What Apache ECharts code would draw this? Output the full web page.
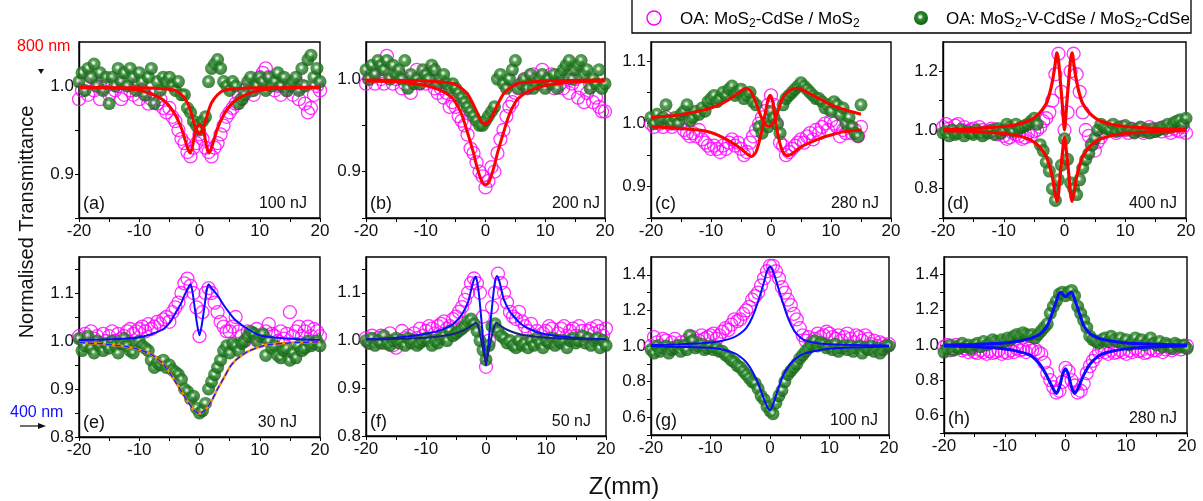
<!DOCTYPE html>
<html>
<head>
<meta charset="utf-8">
<script src="https://cdn.jsdelivr.net/npm/echarts@6/dist/echarts.min.js"></script>
<style>
html,body{margin:0;padding:0;background:#fff;}
#main{width:1203px;height:501px;}
</style>
</head>
<body>
<div id="main"></div>
<script>
// z position (mm) of the scan points
var Z = [
  -20,-19.5,-19,-18.5,-18,-17.5,-17,-16.5,-16,-15.5,
  -15,-14.5,-14,-13.5,-13,-12.5,-12,-11.5,-11,-10.5,
  -10,-9.5,-9,-8.5,-8,-7.5,-7,-6.5,-6,-5.5,
  -5,-4.5,-4,-3.5,-3,-2.5,-2,-1.5,-1,-0.5,
  0,0.5,1,1.5,2,2.5,3,3.5,4,4.5,
  5,5.5,6,6.5,7,7.5,8,8.5,9,9.5,
  10,10.5,11,11.5,12,12.5,13,13.5,14,14.5,
  15,15.5,16,16.5,17,17.5,18,18.5,19,19.5,
  20
];

/* ---- (a) 800 nm, 100 nJ ---- */
var A_MAG = [
  0.985,0.995,1.005,0.99,1.01,0.995,1.0,0.985,1.005,1.0,
  0.99,1.005,0.995,1.0,0.985,0.99,1.005,0.995,0.99,1.0,
  0.985,0.995,0.99,0.98,0.985,0.99,0.98,0.985,0.975,0.97,
  0.975,0.965,0.96,0.95,0.94,0.935,0.925,0.92,0.93,0.935,
  0.945,0.94,0.93,0.925,0.92,0.93,0.935,0.945,0.955,0.965,
  0.97,0.975,0.98,0.99,0.985,0.995,1.0,0.995,0.99,1.005,
  1.01,1.015,1.02,1.01,1.005,0.995,1.0,0.99,1.0,0.995,
  1.0,0.99,1.005,0.985,1.0,0.98,0.97,0.975,0.99,1.0,
  0.995
];
var A_GRN = [
  1.005,1.015,0.995,1.02,1.01,1.025,1.0,1.015,0.995,1.01,
  0.98,1.01,1.0,1.02,1.005,1.015,1.0,1.02,1.01,0.995,
  1.015,1.005,0.99,1.01,1.02,0.98,1.005,0.995,1.01,1.005,
  1.01,1.0,0.995,1.005,0.99,0.99,0.975,0.97,0.96,0.955,
  0.95,0.96,0.965,1.005,1.02,1.025,1.03,1.02,1.005,1.0,
  0.995,1.005,1.0,0.98,0.985,0.99,1.005,1.01,0.995,1.0,
  1.01,1.005,0.995,1.01,1.0,1.005,1.015,1.0,1.01,0.995,
  1.0,1.005,1.01,0.995,1.02,1.0,1.03,1.035,1.01,1.02,
  1.005
];
var A_FIT_MAG = [[-20,0.999],[-16,0.998],[-12,0.997],[-10,0.995],[-8,0.991],[-6,0.984],[-5,0.977],[-4,0.967],[-3,0.952],[-2.5,0.941],[-2,0.93],[-1.6,0.924],[-1.2,0.93],[-0.8,0.945],[-0.4,0.953],[0,0.956],[0.4,0.953],[0.8,0.945],[1.2,0.93],[1.6,0.924],[2,0.93],[2.5,0.941],[3,0.952],[4,0.967],[5,0.977],[6,0.984],[8,0.991],[10,0.995],[12,0.997],[16,0.998],[20,0.999]];
var A_FIT_GRN = [[-20,0.998],[-10,0.998],[-6,0.997],[-4,0.995],[-3,0.99],[-2,0.981],[-1.5,0.972],[-1,0.96],[-0.5,0.95],[0,0.946],[0.5,0.95],[1,0.96],[1.5,0.972],[2,0.981],[3,0.99],[4,0.995],[6,0.997],[10,0.998],[20,0.998]];

/* ---- (b) 800 nm, 200 nJ ---- */
var B_MAG = [
  0.995,1.0,1.005,0.995,1.01,1.0,0.995,1.025,1.005,0.995,
  1.0,1.005,0.99,0.995,1.0,0.985,1.0,1.01,0.995,1.005,
  0.995,1.0,1.01,0.99,0.985,0.99,0.98,0.985,0.97,0.975,
  0.97,0.96,0.955,0.95,0.94,0.925,0.92,0.91,0.9,0.895,
  0.883,0.89,0.905,0.9,0.92,0.935,0.945,0.96,0.97,0.975,
  0.985,0.99,0.995,1.0,0.99,1.0,1.005,1.0,0.995,1.01,
  1.0,0.995,1.005,0.99,1.0,0.995,0.99,1.0,0.985,0.995,
  1.0,0.98,0.99,0.975,0.985,0.995,0.975,0.98,0.97,0.965,
  0.965
];
var B_GRN = [
  1.01,1.0,1.015,1.005,1.02,1.015,1.01,1.02,1.0,1.015,
  1.005,1.01,1.0,1.02,0.99,1.005,0.995,1.0,0.995,1.01,
  1.005,1.0,1.015,1.01,0.995,1.0,1.005,0.995,0.99,0.995,
  0.99,0.985,0.98,0.975,0.97,0.965,0.96,0.955,0.95,0.95,
  0.955,0.96,0.965,0.97,1.0,1.005,0.995,0.99,1.0,1.01,
  1.02,0.99,0.995,1.0,0.99,1.005,0.99,0.995,1.0,1.005,
  0.99,1.0,0.995,1.005,0.99,1.005,1.01,1.015,1.02,1.0,
  1.01,1.015,1.02,1.005,1.01,0.99,1.0,0.995,1.01,0.99,
  0.995
];
var B_FIT_MAG = [[-20,0.998],[-15,0.997],[-12,0.995],[-10,0.993],[-8,0.989],[-6,0.982],[-5,0.975],[-4,0.962],[-3,0.942],[-2,0.92],[-1.5,0.907],[-1,0.896],[-0.5,0.888],[0,0.886],[0.5,0.888],[1,0.896],[1.5,0.907],[2,0.92],[3,0.942],[4,0.962],[5,0.975],[6,0.982],[8,0.989],[10,0.993],[12,0.995],[15,0.997],[20,0.998]];
var B_FIT_GRN = [[-20,0.999],[-10,0.998],[-6,0.996],[-5,0.994],[-4,0.99],[-3,0.984],[-2,0.972],[-1.5,0.965],[-1,0.958],[-0.5,0.953],[0,0.952],[0.5,0.953],[1,0.958],[1.5,0.965],[2,0.972],[3,0.984],[4,0.99],[5,0.994],[6,0.996],[10,0.998],[20,0.999]];

/* ---- (c) 800 nm, 280 nJ (scan stops at 15 mm) ---- */
var C_MAG = [
  1.0,0.995,1.005,1.0,0.995,1.01,1.0,0.995,1.0,1.005,
  1.0,0.99,0.985,0.98,0.985,0.98,0.99,0.975,0.97,0.965,
  0.96,0.965,0.96,0.955,0.965,0.96,0.97,0.975,0.965,0.97,
  0.96,0.95,0.955,0.97,0.98,0.99,1.0,1.01,1.02,1.03,
  1.045,1.03,1.0,0.97,0.965,0.95,0.955,0.96,0.965,0.97,
  0.975,0.97,0.98,0.985,0.975,0.99,0.985,0.995,1.0,0.99,
  1.005,1.0,0.995,0.98,0.99,0.985,0.995,0.985,0.99,0.98,
  0.995
];
var C_GRN = [
  1.01,1.0,1.015,1.005,1.01,1.03,1.005,1.0,1.01,1.0,
  1.015,1.02,1.03,1.005,1.01,1.02,1.015,1.025,1.02,1.035,
  1.04,1.045,1.035,1.04,1.05,1.045,1.055,1.06,1.045,1.05,
  1.055,1.04,1.045,1.05,1.035,1.03,0.995,0.985,1.0,0.995,
  1.02,1.01,1.0,0.985,1.03,1.04,1.045,1.05,1.055,1.06,
  1.065,1.06,1.055,1.05,1.045,1.04,1.04,1.035,1.025,1.03,
  1.02,1.035,1.03,1.015,1.025,1.0,1.01,0.995,0.985,0.98,
  1.03
];
var C_FIT_GRN = [[-20,1.01],[-16,1.013],[-12,1.02],[-10,1.025],[-8,1.033],[-6,1.045],[-5,1.052],[-4.2,1.056],[-3.5,1.053],[-3,1.045],[-2.5,1.033],[-2,1.02],[-1.5,1.008],[-1,1.0],[-0.5,0.996],[0,0.997],[0.5,1.003],[1,1.015],[1.5,1.03],[2,1.042],[3,1.052],[4,1.056],[4.5,1.056],[5,1.055],[6,1.05],[8,1.04],[10,1.03],[12,1.023],[15,1.015]];
var C_FIT_MAG = [[-20,0.995],[-16,0.993],[-12,0.99],[-10,0.986],[-8,0.978],[-6,0.967],[-5,0.96],[-4,0.952],[-3.3,0.948],[-3,0.949],[-2.5,0.955],[-2,0.97],[-1.5,0.99],[-1,1.015],[-0.5,1.038],[-0.2,1.045],[0,1.044],[0.3,1.035],[0.6,1.015],[1,0.99],[1.5,0.968],[2,0.955],[2.7,0.949],[3.5,0.952],[4,0.956],[5,0.963],[6,0.968],[8,0.976],[10,0.982],[12,0.987],[15,0.99]];

/* ---- (d) 800 nm, 400 nJ ---- */
var D_MAG = [
  1.01,1.02,1.005,0.995,1.015,1.02,1.0,1.01,0.995,1.0,
  1.005,0.995,1.01,1.0,0.99,0.995,1.005,1.0,0.985,0.99,
  0.98,0.97,0.975,0.99,0.985,0.98,0.97,0.975,0.99,0.98,
  0.995,1.0,1.01,1.03,1.04,1.06,1.1,1.19,1.26,1.13,
  1.0,1.06,1.2,1.26,1.19,1.13,1.06,1.0,0.98,0.95,
  0.93,0.96,0.975,0.99,1.0,1.01,1.0,0.99,1.0,1.01,
  1.0,0.99,1.005,0.995,1.0,1.005,0.99,1.0,1.01,0.995,
  1.0,1.005,0.995,1.01,1.0,0.99,1.005,1.0,0.995,1.01,
  0.99
];
var D_GRN = [
  0.99,0.995,0.98,1.0,0.985,0.99,1.0,0.98,0.995,0.99,
  0.985,1.0,0.99,0.98,0.995,0.99,1.0,0.985,1.005,0.99,
  1.0,1.02,1.01,0.995,1.02,1.005,1.01,1.015,1.02,1.03,
  1.04,1.02,0.95,0.93,0.89,0.86,0.8,0.76,0.83,0.88,
  0.97,0.9,0.82,0.8,0.78,0.83,0.87,0.9,0.92,0.95,
  0.97,1.0,1.02,1.01,1.005,1.0,1.02,0.995,1.01,1.0,
  1.015,1.0,1.005,0.99,1.0,1.01,0.995,1.0,0.99,1.005,
  0.995,1.0,1.01,1.005,1.02,1.01,1.025,1.03,1.035,1.02,
  1.04
];
var D_FIT_MAG = [[-20,1.002],[-16,1.004],[-12,1.009],[-10,1.012],[-8,1.018],[-6,1.03],[-5,1.042],[-4,1.06],[-3,1.09],[-2.5,1.12],[-2,1.165],[-1.6,1.215],[-1.25,1.263],[-1,1.24],[-0.7,1.17],[-0.35,1.085],[0,1.0],[0.35,1.085],[0.7,1.17],[1,1.24],[1.25,1.263],[1.6,1.215],[2,1.165],[2.5,1.12],[3,1.09],[4,1.06],[5,1.042],[6,1.03],[8,1.018],[10,1.012],[12,1.009],[16,1.004],[20,1.002]];
var D_FIT_GRN = [[-20,0.998],[-16,0.996],[-12,0.991],[-10,0.988],[-8,0.982],[-6,0.97],[-5,0.958],[-4,0.94],[-3,0.91],[-2.5,0.88],[-2,0.84],[-1.6,0.79],[-1.25,0.757],[-1,0.78],[-0.7,0.85],[-0.35,0.92],[0,0.975],[0.35,0.92],[0.7,0.85],[1,0.78],[1.25,0.757],[1.6,0.79],[2,0.84],[2.5,0.88],[3,0.91],[4,0.94],[5,0.958],[6,0.97],[8,0.982],[10,0.988],[12,0.991],[16,0.996],[20,0.998]];

/* ---- (e) 400 nm, 30 nJ ---- */
var E_MAG = [
  1.01,1.005,1.015,1.0,1.02,1.005,1.01,0.995,1.015,1.0,
  1.01,1.02,1.0,1.015,1.005,1.01,1.02,1.025,1.015,1.02,
  1.025,1.03,1.02,1.035,1.025,1.03,1.04,1.035,1.045,1.05,
  1.04,1.06,1.07,1.08,1.1,1.12,1.13,1.115,1.1,1.07,
  1.01,1.06,1.1,1.11,1.1,1.08,1.06,1.04,1.03,1.02,
  1.02,1.03,1.05,1.02,1.01,1.0,1.02,1.01,1.015,1.025,
  1.0,1.01,1.02,1.035,1.015,1.01,1.0,1.02,1.005,1.015,
  1.06,1.01,1.02,1.03,1.01,1.02,1.03,1.01,1.025,1.02,
  1.01
];
var E_GRN = [
  1.005,0.98,0.99,1.01,0.985,0.975,1.0,0.99,0.98,0.995,
  0.985,1.0,0.99,0.975,0.995,1.005,0.99,0.98,0.975,0.995,
  1.0,0.99,0.985,0.98,0.96,0.945,0.955,0.95,0.96,0.945,
  0.95,0.94,0.935,0.93,0.92,0.9,0.895,0.88,0.885,0.86,
  0.85,0.855,0.87,0.9,0.915,0.93,0.945,0.96,0.98,0.99,
  0.975,0.995,0.99,0.98,0.995,1.0,1.01,1.02,1.015,1.0,
  1.01,1.015,0.97,1.0,0.985,0.99,0.97,0.965,0.98,0.985,
  0.96,0.975,0.965,0.99,0.98,0.985,1.0,0.99,0.995,1.0,
  0.99
];
var E_FIT_MAG = [[-20,1.002],[-16,1.003],[-12,1.005],[-10,1.008],[-8,1.014],[-6,1.025],[-5,1.037],[-4,1.058],[-3,1.08],[-2.5,1.095],[-2,1.108],[-1.5,1.118],[-1.2,1.105],[-0.8,1.07],[-0.4,1.035],[0,1.012],[0.4,1.035],[0.8,1.07],[1.2,1.105],[1.5,1.118],[2,1.11],[3,1.095],[4,1.075],[5,1.058],[6,1.043],[8,1.025],[10,1.012],[12,1.008],[16,1.004],[20,1.002]];
var E_FIT_GRN = [[-20,0.997],[-16,0.994],[-12,0.988],[-10,0.982],[-8,0.972],[-7,0.963],[-6,0.952],[-5,0.935],[-4,0.915],[-3,0.895],[-2,0.875],[-1,0.857],[0,0.849],[1,0.857],[2,0.875],[3,0.9],[4,0.922],[5,0.945],[6,0.96],[7,0.97],[8,0.978],[10,0.988],[12,0.993],[16,0.997],[20,0.998]];

/* ---- (f) 400 nm, 50 nJ ---- */
var F_MAG = [
  1.005,0.995,1.01,1.0,1.005,1.01,0.995,1.0,1.015,0.99,
  0.985,1.0,1.02,1.005,1.01,1.0,1.015,1.005,1.025,1.01,
  1.02,1.03,1.025,1.015,1.03,1.035,1.04,1.025,1.03,1.045,
  1.05,1.06,1.07,1.085,1.1,1.12,1.13,1.12,1.1,1.05,
  0.945,1.0,1.07,1.1,1.14,1.12,1.1,1.08,1.06,1.05,
  1.045,1.06,1.04,1.03,1.02,1.035,1.01,1.02,1.0,1.015,
  1.02,1.03,1.025,1.0,1.015,1.025,1.03,1.01,1.02,1.025,
  1.01,1.03,1.02,1.005,1.02,1.025,1.015,1.03,1.02,1.01,
  1.025
];
var F_GRN = [
  1.0,0.995,1.005,0.99,1.0,0.995,1.01,0.995,0.99,1.0,
  1.005,0.995,1.0,0.99,1.005,0.995,1.0,0.99,0.995,1.0,
  1.005,1.0,0.99,1.0,0.995,1.005,1.01,1.0,1.02,1.01,
  1.015,1.02,1.025,1.03,1.04,1.045,1.035,1.02,1.0,0.98,
  0.96,0.99,1.03,1.035,1.02,1.01,1.005,0.995,1.0,0.99,
  0.985,1.0,0.99,0.995,0.985,1.0,0.99,1.005,0.995,0.985,
  1.0,0.995,1.005,0.99,1.0,0.995,1.0,0.985,1.0,1.005,
  0.995,1.0,1.01,0.995,1.005,0.99,1.0,1.005,0.985,1.0,
  0.99
];
var F_FIT_MAG = [[-20,1.003],[-16,1.005],[-12,1.01],[-10,1.014],[-8,1.02],[-6,1.03],[-5,1.04],[-4,1.055],[-3,1.08],[-2.5,1.105],[-2,1.128],[-1.7,1.134],[-1.3,1.11],[-1,1.075],[-0.6,1.02],[-0.3,0.98],[0,0.947],[0.3,0.98],[0.6,1.02],[1,1.07],[1.4,1.115],[1.8,1.135],[2.2,1.125],[2.6,1.105],[3,1.085],[4,1.06],[5,1.045],[6,1.033],[8,1.02],[10,1.013],[12,1.009],[16,1.005],[20,1.003]];
var F_FIT_GRN = [[-20,1.002],[-10,1.006],[-6,1.012],[-4,1.02],[-3,1.026],[-2,1.035],[-1.7,1.037],[-1.2,1.025],[-0.8,1.0],[-0.4,0.975],[0,0.955],[0.4,0.975],[0.8,1.0],[1.2,1.022],[1.7,1.037],[2.2,1.033],[3,1.026],[4,1.02],[6,1.012],[10,1.006],[20,1.002]];

/* ---- (g) 400 nm, 100 nJ ---- */
var G_MAG = [
  1.0,1.05,1.02,1.0,1.04,1.03,0.99,1.02,1.04,1.0,
  1.02,1.0,1.03,1.01,1.05,1.02,1.03,1.06,1.04,1.05,
  1.06,1.07,1.04,1.06,1.08,1.1,1.09,1.12,1.15,1.14,
  1.15,1.18,1.2,1.22,1.26,1.28,1.3,1.34,1.38,1.42,
  1.45,1.45,1.42,1.38,1.33,1.3,1.26,1.23,1.18,1.15,
  1.1,1.06,1.03,1.05,1.02,1.04,1.07,1.05,1.06,1.08,
  1.07,1.05,1.04,1.06,1.03,1.05,1.07,1.04,1.02,1.06,
  1.05,1.03,1.06,1.04,1.01,1.03,1.0,1.02,1.01,1.0,
  1.01
];
var G_GRN = [
  0.98,0.96,1.0,0.97,0.99,1.0,0.96,0.98,0.99,1.0,
  0.97,1.0,0.98,1.06,1.03,0.99,1.0,1.01,0.98,0.99,
  1.0,0.98,0.99,0.97,0.97,0.95,0.94,0.92,0.91,0.89,
  0.88,0.86,0.84,0.82,0.8,0.79,0.76,0.72,0.7,0.66,
  0.635,0.62,0.68,0.72,0.75,0.8,0.84,0.86,0.88,0.9,
  0.93,0.95,0.97,0.99,1.01,1.03,1.0,1.02,1.01,0.99,
  1.0,0.98,1.01,0.97,0.99,1.0,0.98,1.0,0.97,0.99,
  1.0,0.96,0.99,0.98,1.0,0.97,0.99,0.96,0.98,1.0,
  1.0
];
var G_FIT_MAG = [[-20,1.005],[-15,1.01],[-10,1.02],[-8,1.03],[-6,1.05],[-5,1.07],[-4,1.1],[-3,1.16],[-2,1.25],[-1,1.36],[-0.5,1.42],[0,1.445],[0.5,1.42],[1,1.37],[2,1.26],[3,1.16],[4,1.09],[5,1.05],[6,1.03],[8,1.015],[10,1.01],[15,1.005],[20,1.003]];
var G_FIT_GRN = [[-20,0.998],[-15,0.995],[-10,0.99],[-8,0.98],[-6,0.96],[-5,0.94],[-4,0.91],[-3,0.86],[-2,0.79],[-1,0.7],[-0.5,0.66],[0,0.64],[0.5,0.67],[1,0.72],[2,0.82],[3,0.88],[4,0.92],[5,0.945],[6,0.96],[8,0.975],[10,0.985],[15,0.993],[20,0.997]];

/* ---- (h) 400 nm, 280 nJ ---- */
var H_MAG = [
  0.99,1.0,0.97,0.98,1.0,0.99,0.97,0.98,0.96,0.975,
  0.96,0.955,0.97,0.96,0.95,0.965,0.955,0.96,0.97,0.95,
  0.96,0.955,0.97,0.96,0.98,0.97,0.975,0.96,0.98,0.97,
  0.975,0.96,0.95,0.9,0.84,0.8,0.76,0.73,0.74,0.79,
  0.87,0.85,0.8,0.77,0.73,0.74,0.78,0.84,0.88,0.91,
  0.935,0.96,0.975,0.96,0.95,0.97,0.955,0.96,0.97,0.96,
  0.95,0.97,0.96,0.98,0.965,0.97,0.955,0.96,0.98,0.97,
  0.97,0.985,0.96,0.975,0.99,0.97,0.98,0.99,0.975,0.99,
  0.995
];
var H_GRN = [
  0.96,0.98,1.0,0.97,0.99,0.98,1.01,0.99,1.0,0.98,
  1.0,1.01,0.99,1.02,1.0,1.01,1.03,1.02,1.01,1.03,
  1.02,1.04,1.03,1.05,1.06,1.05,1.07,1.06,1.05,1.06,
  1.04,1.06,1.08,1.1,1.12,1.18,1.22,1.25,1.29,1.3,
  1.28,1.3,1.31,1.28,1.22,1.18,1.14,1.1,1.05,1.03,
  1.02,1.01,1.03,1.04,1.02,1.05,1.03,1.02,1.04,1.01,
  1.03,1.0,1.02,1.04,1.01,1.03,1.0,1.02,1.04,1.01,
  1.0,1.02,0.99,1.01,1.0,0.98,1.01,1.0,0.99,1.0,
  0.98
];
var H_FIT_GRN = [[-20,1.0],[-15,1.003],[-12,1.008],[-10,1.012],[-8,1.02],[-6,1.035],[-5,1.048],[-4,1.068],[-3,1.11],[-2.5,1.15],[-2,1.2],[-1.5,1.25],[-1.1,1.29],[-0.8,1.3],[-0.4,1.285],[0,1.275],[0.4,1.285],[0.9,1.3],[1.2,1.29],[1.6,1.25],[2,1.21],[2.5,1.16],[3,1.11],[4,1.065],[5,1.045],[6,1.033],[8,1.02],[10,1.012],[12,1.008],[15,1.004],[20,1.0]];
var H_FIT_MAG = [[-20,0.995],[-15,0.99],[-12,0.984],[-10,0.977],[-8,0.965],[-6,0.945],[-5,0.92],[-4,0.88],[-3,0.82],[-2.5,0.785],[-2,0.75],[-1.5,0.725],[-1,0.76],[-0.5,0.83],[0,0.865],[0.5,0.83],[1,0.76],[1.5,0.725],[2,0.75],[2.5,0.79],[3,0.83],[4,0.89],[5,0.925],[6,0.948],[8,0.967],[10,0.978],[12,0.985],[15,0.99],[20,0.995]];

// panel data: scatter + fit lines [data, colour, width, dashed?]
var PANELS = [
  {tag:'(a)', energy:'100 nJ', mag:A_MAG, grn:A_GRN, y:[0.85,1.05,0.05,10], fits:[[A_FIT_MAG,'#ff0000',3],[A_FIT_GRN,'#ff0000',3]]},
  {tag:'(b)', energy:'200 nJ', mag:B_MAG, grn:B_GRN, y:[0.85,1.04,0.05,10], fits:[[B_FIT_MAG,'#ff0000',3],[B_FIT_GRN,'#ff0000',3]]},
  {tag:'(c)', energy:'280 nJ', mag:C_MAG, grn:C_GRN, y:[0.85,1.13,0.05,10], fits:[[C_FIT_MAG,'#ff0000',3],[C_FIT_GRN,'#ff0000',3]]},
  {tag:'(d)', energy:'400 nJ', mag:D_MAG, grn:D_GRN, y:[0.7,1.3,0.1,20], fits:[[D_FIT_MAG,'#ff0000',3.2],[D_FIT_GRN,'#ff0000',3.2]]},
  {tag:'(e)', energy:'30 nJ', mag:E_MAG, grn:E_GRN, y:[0.8,1.175,0.05,10], fits:[[E_FIT_MAG,'#0a0aff',2],[E_FIT_GRN,'#ff8c00',2.5],[E_FIT_GRN,'#2020ff',1.5,'dashed']]},
  {tag:'(f)', energy:'50 nJ', mag:F_MAG, grn:F_GRN, y:[0.8,1.175,0.05,10], fits:[[F_FIT_MAG,'#0a0aff',2],[F_FIT_GRN,'#1a237e',2]]},
  {tag:'(g)', energy:'100 nJ', mag:G_MAG, grn:G_GRN, y:[0.5,1.5,0.1,20], fits:[[G_FIT_MAG,'#0a0aff',2],[G_FIT_GRN,'#0a0aff',2]]},
  {tag:'(h)', energy:'280 nJ', mag:H_MAG, grn:H_GRN, y:[0.5,1.5,0.1,20], fits:[[H_FIT_MAG,'#0a0aff',3],[H_FIT_GRN,'#0a0aff',3]]}
];

// plot boxes in px: left, top, width, height
var BOXES = [
  [79,42,241,176],[366,42,239,176],[651,42,240,176],[943,42,243,176],
  [79,257,241,180],[366,257,240,179],[651,257,238,178],[944,257,243,176]
];
var TAG_INSET = [13,5,12,9,23,15,11,10];

var FONT = '"Liberation Sans", Arial, sans-serif';
var ball = function(){
  return new echarts.graphic.RadialGradient(0.45,0.42,0.6,[
    {offset:0,color:'#ffffff'},{offset:0.12,color:'#d8ecd8'},
    {offset:0.35,color:'#2f8a2f'},{offset:1,color:'#0d5c0d'}]);
};

var chart = echarts.init(document.getElementById('main'));
var grids = [], xAxes = [], yAxes = [], series = [], graphics = [];

PANELS.forEach(function(p, k){
  var b = BOXES[k];
  grids.push({left:b[0], top:b[1], width:b[2], height:b[3], show:true, borderColor:'#000', borderWidth:1.4, containLabel:false});
  xAxes.push({
    gridIndex:k, type:'value', min:-20, max:20, interval:5,
    axisLine:{onZero:false, lineStyle:{color:'#000', width:1.4}},
    axisTick:{length:4, lineStyle:{color:'#000'}},
    axisLabel:{fontFamily:FONT, fontSize:17, color:'#111', margin:5,
      formatter:function(v){ return v % 10 === 0 ? String(v) : ''; }},
    splitLine:{show:false}
  });
  var lab = p.y[3];
  yAxes.push({
    gridIndex:k, type:'value', min:p.y[0], max:p.y[1], interval:p.y[2],
    axisLine:{onZero:false, lineStyle:{color:'#000', width:1.4}},
    axisTick:{length:4, lineStyle:{color:'#000'}},
    axisLabel:{fontFamily:FONT, fontSize:17, color:'#111', margin:5, showMaxLabel:false,
      formatter:function(v){ return Math.round(v*100) % lab === 0 ? v.toFixed(1) : ''; }},
    splitLine:{show:false}
  });
  series.push({
    type:'scatter', xAxisIndex:k, yAxisIndex:k, z:2, silent:true,
    symbol:'circle', symbolSize:13,
    itemStyle:{color:'rgba(255,255,255,0)', borderColor:'#ff00ff', borderWidth:1.3},
    data:p.mag.map(function(y,i){ return [Z[i], y]; })
  });
  series.push({
    type:'scatter', xAxisIndex:k, yAxisIndex:k, z:3, silent:true,
    symbol:'circle', symbolSize:13,
    itemStyle:{color:ball()},
    data:p.grn.map(function(y,i){ return [Z[i], y]; })
  });
  p.fits.forEach(function(f){
    series.push({
      type:'line', xAxisIndex:k, yAxisIndex:k, z:5, silent:true,
      showSymbol:false, smooth:0.25,
      lineStyle:{color:f[1], width:f[2], type:f[3] || 'solid'},
      data:f[0]
    });
  });
  graphics.push({type:'text', x:b[0]+4, y:b[1]+b[3]-14,
    style:{text:p.tag, font:'18px '+FONT, fill:'#111', align:'left', verticalAlign:'middle', textAlign:'left', textVerticalAlign:'middle'}});
  graphics.push({type:'text', x:b[0]+b[2]-TAG_INSET[k], y:b[1]+b[3]-14,
    style:{text:p.energy, font:'16px '+FONT, fill:'#111', align:'right', verticalAlign:'middle', textAlign:'right', textVerticalAlign:'middle'}});
});

// legend box
graphics.push({type:'rect', shape:{x:632, y:-2, width:559, height:35}, style:{fill:'none', stroke:'#000', lineWidth:1.3}});
graphics.push({type:'circle', shape:{cx:654, cy:18, r:7}, style:{fill:'none', stroke:'#ff00ff', lineWidth:1.5}});
graphics.push({type:'circle', shape:{cx:921, cy:18, r:7}, style:{fill:ball()}});
var rich = {
  n:{fontFamily:FONT, fontSize:17, color:'#111', lineHeight:22, verticalAlign:'middle'},
  s:{fontFamily:FONT, fontSize:12, color:'#111', lineHeight:22, verticalAlign:'bottom'}
};
graphics.push({type:'text', x:680, y:19, style:{text:'{n|OA: MoS}{s|2}{n|-CdSe / MoS}{s|2}', rich:rich, verticalAlign:'middle', textVerticalAlign:'middle'}});
graphics.push({type:'text', x:946, y:19, style:{text:'{n|OA: MoS}{s|2}{n|-V-CdSe / MoS}{s|2}{n|-CdSe}', rich:rich, verticalAlign:'middle', textVerticalAlign:'middle'}});

// axis titles
graphics.push({type:'text', x:27, y:222, rotation:Math.PI/2,
  style:{text:'Normalised Transmittance', font:'20px '+FONT, fill:'#111', align:'center', verticalAlign:'middle', textAlign:'center', textVerticalAlign:'middle'}});
graphics.push({type:'text', x:624, y:487,
  style:{text:'Z(mm)', font:'24px '+FONT, fill:'#111', align:'center', verticalAlign:'middle', textAlign:'center', textVerticalAlign:'middle'}});

// wavelength notes
graphics.push({type:'text', x:17, y:47, style:{text:'800 nm', font:'16px '+FONT, fill:'#ff0000', align:'left', verticalAlign:'middle', textAlign:'left', textVerticalAlign:'middle'}});
graphics.push({type:'polygon', shape:{points:[[38,69],[44,69],[41,74]]}, style:{fill:'#111'}});
graphics.push({type:'text', x:10, y:413, style:{text:'400 nm', font:'16px '+FONT, fill:'#1010ff', align:'left', verticalAlign:'middle', textAlign:'left', textVerticalAlign:'middle'}});
graphics.push({type:'line', shape:{x1:20, y1:426, x2:40, y2:426}, style:{stroke:'#111', lineWidth:1.2}});
graphics.push({type:'polygon', shape:{points:[[46,426],[38,423],[38,429]]}, style:{fill:'#111'}});

chart.setOption({
  animation:false,
  backgroundColor:'#fff',
  grid:grids, xAxis:xAxes, yAxis:yAxes, series:series,
  graphic:{elements:graphics}
});
</script>
</body>
</html>
